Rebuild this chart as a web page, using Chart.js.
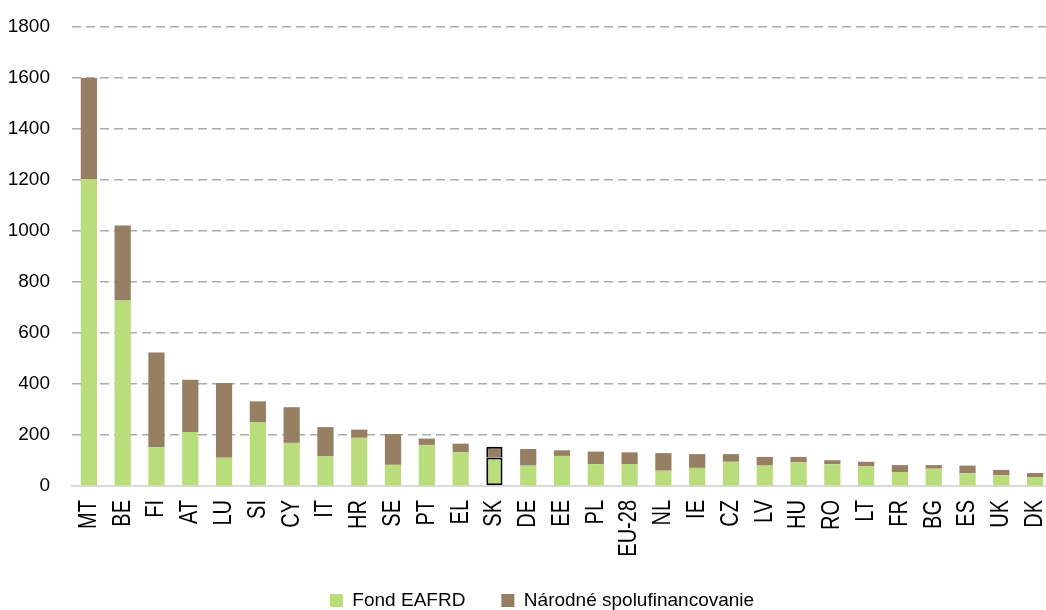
<!DOCTYPE html>
<html>
<head>
<meta charset="utf-8">
<script src="https://cdn.jsdelivr.net/npm/chart.js@4/dist/chart.umd.min.js"></script>
<style>
  html, body { margin: 0; padding: 0; overflow: hidden; background: #fff; }
  #wrap { width: 1056px; height: 620px; }
</style>
</head>
<body>
<div id="wrap"><canvas id="chart" width="1056" height="620"></canvas></div>
<script>
// ── Data ──────────────────────────────────────────────────────────────────────
const COUNTRIES = ["MT", "BE", "FI", "AT", "LU", "SI", "CY", "IT", "HR", "SE", "PT", "EL", "SK", "DE",
                   "EE", "PL", "EU-28", "NL", "IE", "CZ", "LV", "HU", "RO", "LT", "FR", "BG", "ES", "UK", "DK"];

const EAFRD    = [1203, 727, 152, 212, 111, 251, 169, 116, 189, 83, 161, 133, 112, 80,
                  118, 85, 86, 60, 71, 95, 80, 93, 85, 78, 55, 68, 50, 42, 35];

const NATIONAL = [397, 295, 372, 205, 293, 81, 140, 115, 32, 121, 25, 33, 42, 65,
                  22, 50, 46, 69, 54, 30, 34, 21, 16, 17, 27, 14, 30, 21, 16];

const Y_MAX  = 1800;
const Y_STEP = 200;

const HIGHLIGHT = "SK";

// ── Colours / fonts ───────────────────────────────────────────────────────────
const GREEN = "#badd7c";
const BROWN = "#977f64";
const FONT  = { family: "'Liberation Sans', Arial, sans-serif", size: 19 };

const edgeColor = COUNTRIES.map(c => c === HIGHLIGHT ? "#000000" : "rgba(0,0,0,0)");
const edgeWidth = COUNTRIES.map(c => c === HIGHLIGHT ? 2 : 0);

// ── Plugins ───────────────────────────────────────────────────────────────────
// Nudge the legend right so it sits centred under the visible plot, as in the source
const legendShift = {
  id: "legendShift",
  afterLayout(chart) {
    chart.legend.left  += 16;
    chart.legend.right += 16;
  },
};

// Category labels in the source are rotated and look vertically stretched;
// draw them at the x scale's tick positions with a small glyph-height scale.
const stretchedTicks = {
  id: "stretchedTicks",
  afterDraw(chart) {
    const xs  = chart.scales.x;
    const ctx = chart.ctx;
    ctx.save();
    ctx.fillStyle    = "#000";
    ctx.font         = "20px 'Liberation Sans', Arial, sans-serif";
    ctx.textAlign    = "right";
    ctx.textBaseline = "middle";
    xs.ticks.forEach((t, i) => {
      ctx.save();
      ctx.translate(xs.getPixelForTick(i), xs.top + 14);
      ctx.rotate(-Math.PI / 2);
      ctx.scale(1, 1.25);
      ctx.fillText(COUNTRIES[i], 0, 0);
      ctx.restore();
    });
    ctx.restore();
  },
};

Chart.defaults.color = "#000000";

new Chart(document.getElementById("chart").getContext("2d"), {
  type: "bar",
  data: {
    labels: COUNTRIES,
    datasets: [
      {
        label: "Fond EAFRD",
        data: EAFRD,
        backgroundColor: GREEN,
        borderColor: edgeColor,
        borderWidth: edgeWidth,
        borderSkipped: false,
      },
      {
        label: "Národné spolufinancovanie",
        data: NATIONAL,
        backgroundColor: BROWN,
        borderColor: edgeColor,
        borderWidth: edgeWidth,
        borderSkipped: "bottom",   // the green segment's top edge closes the box
      },
    ],
  },
  options: {
    responsive: false,
    animation: false,
    devicePixelRatio: 1,
    layout: { padding: { top: 27, left: 0, right: 4, bottom: 0 } },
    datasets: { bar: { categoryPercentage: 1, barPercentage: 0.48 } },
    scales: {
      x: {
        stacked: true,
        grid: { display: false, drawTicks: false },
        border: { display: true, color: "#d9d9d9", width: 2 },
        ticks: { display: false, autoSkip: false },
        afterFit: scale => { scale.height = 69; },
      },
      y: {
        stacked: true,
        min: 0,
        max: Y_MAX,
        grid: { color: "#ababab", lineWidth: 1.4, drawTicks: false },
        border: { display: false, dash: [9, 5] },
        ticks: { font: FONT, stepSize: Y_STEP, padding: 22, callback: v => String(v) },
        afterFit: scale => {
          scale.width = 72;
          scale.paddingTop = 0;
          scale.paddingBottom = 0;
        },
      },
    },
    plugins: {
      tooltip: { enabled: false },
      legend: {
        position: "bottom",
        labels: { font: FONT, boxWidth: 13, boxHeight: 13, padding: 36, color: "#000" },
      },
    },
  },
  plugins: [legendShift, stretchedTicks],
});
</script>
</body>
</html>
